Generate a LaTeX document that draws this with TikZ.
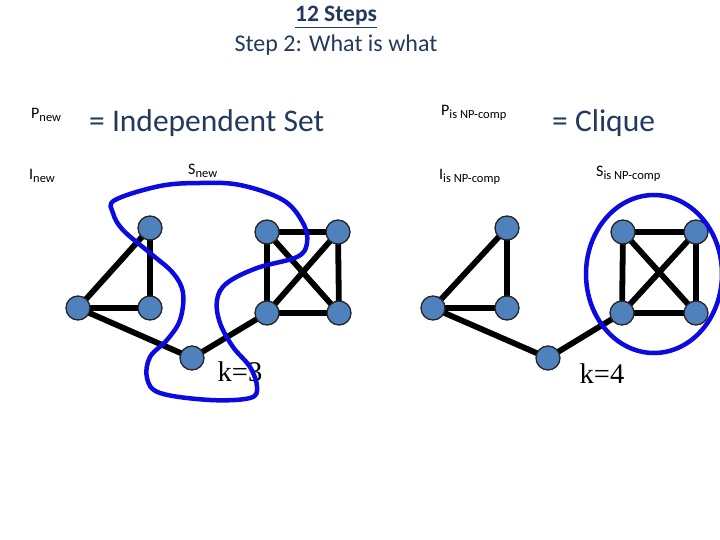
\documentclass[tikz,border=0pt]{standalone}
\usepackage{fontspec}
\setmainfont{Carlito}
\newfontfamily\timesf{Liberation Serif}
\begin{document}
\begin{tikzpicture}[x=1pt,y=-1pt,
  vtx/.style={circle,fill={rgb,255:red,79;green,129;blue,189},draw=black!85,line width=1.3pt,minimum size=24pt,inner sep=0pt},
  edg/.style={line width=5.8pt,black},
  loopc/.style={line width=4.5pt,color={rgb,255:red,10;green,10;blue,225}},
  lbl/.style={font=\fontsize{16}{18}\selectfont,inner sep=0pt,anchor=west},
  bigt/.style={font=\fontsize{31.5}{36}\selectfont,text={rgb,255:red,35;green,58;blue,92},inner sep=0pt},
  ttl/.style={font=\fontsize{24}{28}\selectfont,text={rgb,255:red,35;green,58;blue,92},inner sep=0pt},
  kl/.style={font=\timesf\fontsize{28.5}{30}\selectfont,inner sep=0pt}]
\useasboundingbox (0,0) rectangle (720,540);
% titles
\node[ttl,font=\bfseries\fontsize{23.5}{26}\selectfont] (t1) at (336,17) {\underline{12 Steps}};
\node[ttl] (t2) at (336,45) {Step 2: What is what};
% labels
\newcommand\subt[1]{\raisebox{-3.5pt}{\fontsize{12.5}{13}\selectfont #1}}
\node[lbl] (pnew) at (31,115) {P\subt{new}};
\node[bigt,anchor=west] (is) at (89,123) {= Independent Set};
\node[lbl] (inew) at (29,176) {I\subt{new}};
\node[lbl] (snew) at (188,171) {S\subt{new}};
\node[lbl] (pnp) at (441,113) {P\subt{is NP-comp}};
\node[bigt,anchor=west] (cl) at (552,123) {= Clique};
\node[lbl] (inp) at (439,177) {I\subt{is NP-comp}};
\node[lbl] (snp) at (596,174) {S\subt{is NP-comp}};
% left graph
\coordinate (a1) at (150,228);
\coordinate (a2) at (78,308);
\coordinate (a3) at (150,308);
\coordinate (a4) at (192,358);
\coordinate (a5) at (267,232);
\coordinate (a6) at (338,232);
\coordinate (a7) at (267,313);
\coordinate (a8) at (339,313);
\draw[edg] (a1)--(a2) (a1)--(a3) (a2)--(a3) (a2)--(a4) (a4)--(a7)
  (a5)--(a6) (a5)--(a7) (a6)--(a8) (a7)--(a8) (a5)--(a8) (a6)--(a7);
\foreach \n in {1,...,8} \node[vtx] (v\n) at (a\n) {};
\node[kl] (k3) at (240,372) {k=3};
\draw[loopc] plot[smooth cycle,tension=0.6] coordinates {
 (115,200) (160,186) (200,183) (240,185) (283,200) (303,223) (307,243)
 (297,257) (257,268) (227,283) (217,300) (220,323) (233,347) (250,367)
 (257,387) (250,398) (210,400) (160,393) (147,378) (150,357) (167,340)
 (180,320) (183,293) (173,273) (150,253) (123,230) (113,213)};
% right graph
\coordinate (b1) at (507,228);
\coordinate (b2) at (433,308);
\coordinate (b3) at (507,308);
\coordinate (b4) at (548,358);
\coordinate (b5) at (623,232);
\coordinate (b6) at (696,232);
\coordinate (b7) at (622,313);
\coordinate (b8) at (696,313);
\draw[edg] (b1)--(b2) (b1)--(b3) (b2)--(b3) (b2)--(b4) (b4)--(b7)
  (b5)--(b6) (b5)--(b7) (b6)--(b8) (b7)--(b8) (b5)--(b8) (b6)--(b7);
\foreach \n in {1,...,8} \node[vtx] (w\n) at (b\n) {};
\node[kl] (k4) at (602,374) {k=4};
\draw[loopc] (654,274) ellipse [x radius=68, y radius=79];
\end{tikzpicture}
\end{document}
